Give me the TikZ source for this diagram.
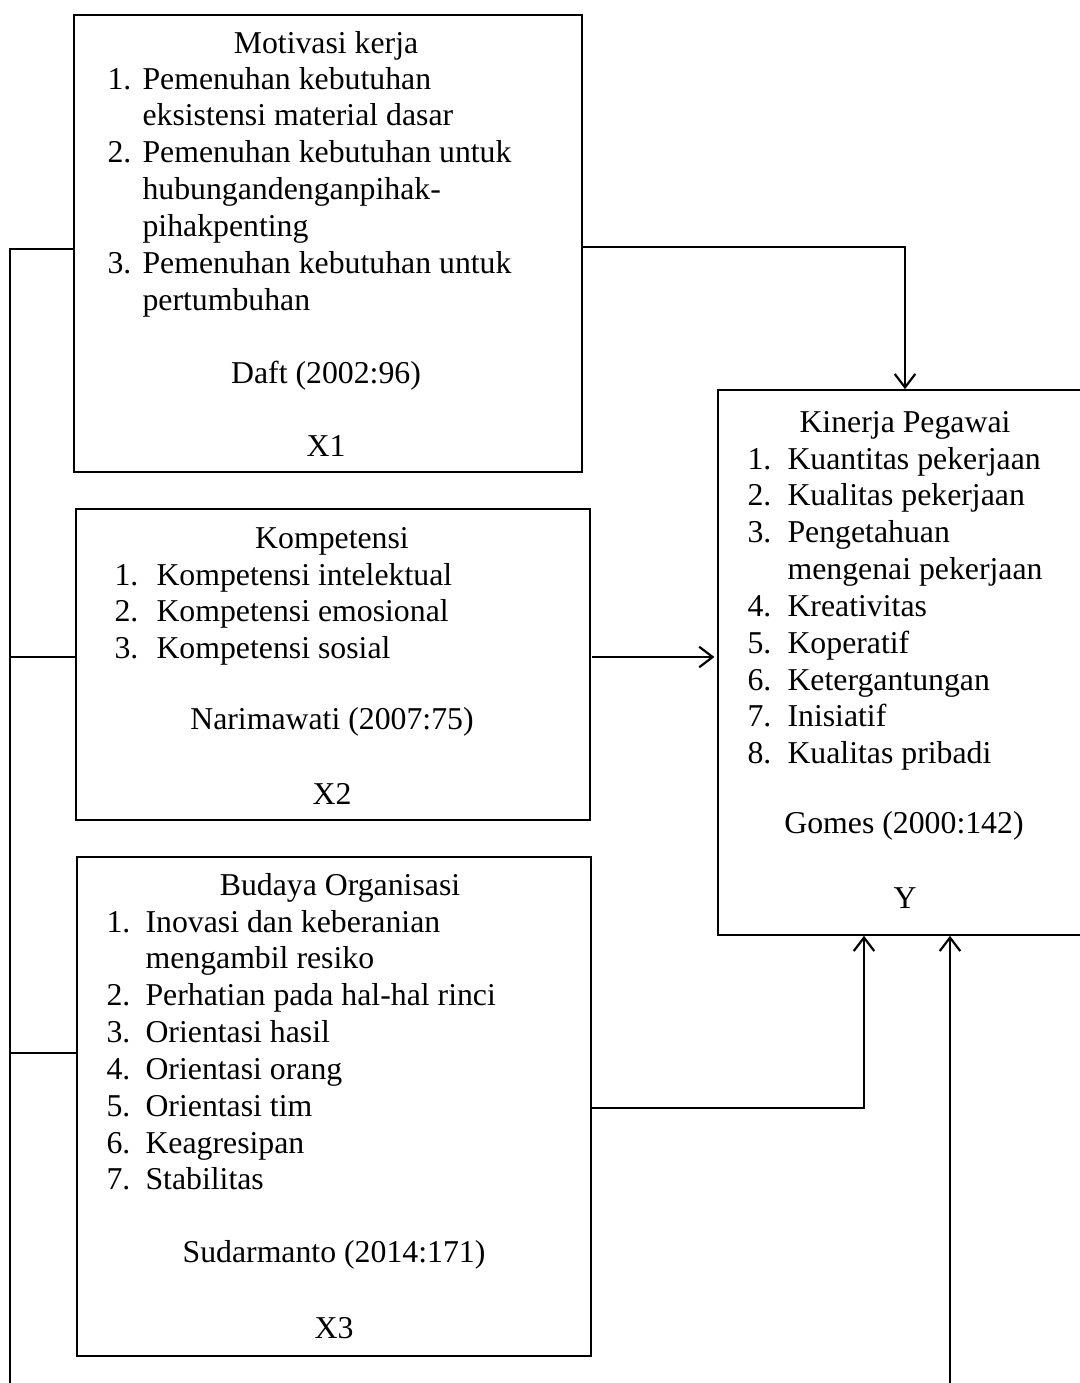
\documentclass[tikz,border=0pt]{standalone}
\usepackage{fontspec}
\setmainfont{Liberation Serif}
\usetikzlibrary{arrows.meta,fit}
\newdimen\px \px=0.365pt
\newcommand{\itemlist}[2]{\begin{tabular}[t]{@{}p{#1\px}@{}l@{}}#2\end{tabular}}
\tikzset{
  box/.style={draw, line width=0.6pt, inner sep=0pt},
  txt/.style={inner sep=0pt, anchor=base, font=\fontsize{11.6}{13.45}\selectfont},
  items/.style={txt, anchor=base west},
  bus/.style={line width=0.8pt},
  arr/.style={bus, -{Straight Barb[length=4.9pt,width=7.5pt]}}
}
\begin{document}
\begin{tikzpicture}[x=0.365pt, y=-0.365pt]
            \useasboundingbox (0,0) rectangle (1080,1383);
            % X1
            \node[box, fit={(74,15) (582,472)}] (x1) {};
            \node[txt] (x1t) at (326,53) {Motivasi kerja};
            \node[items] (x1l) at (107,89) {\itemlist{35}{1. & Pemenuhan kebutuhan\\ & eksistensi material dasar\\ 2. & Pemenuhan kebutuhan untuk\\ & hubungandenganpihak-\\ & pihakpenting\\ 3. & Pemenuhan kebutuhan untuk\\ & pertumbuhan}};
            \node[txt] (x1s) at (326,383) {Daft (2002:96)};
            \node[txt] (x1v) at (326,456) {X1};
            % X2
            \node[box, fit={(76,509) (590,820)}] (x2) {};
            \node[txt] (x2t) at (332,548) {Kompetensi};
            \node[items] (x2l) at (114,585) {\itemlist{42}{1. & Kompetensi intelektual\\ 2. & Kompetensi emosional\\ 3. & Kompetensi sosial}};
            \node[txt] (x2s) at (332,729) {Narimawati (2007:75)};
            \node[txt] (x2v) at (332,804) {X2};
            % X3
            \node[box, fit={(77,857) (591,1356)}] (x3) {};
            \node[txt] (x3t) at (340,895) {Budaya Organisasi};
            \node[items] (x3l) at (106,932) {\itemlist{39}{1. & Inovasi dan keberanian\\ & mengambil resiko\\ 2. & Perhatian pada hal-hal rinci\\ 3. & Orientasi hasil\\ 4. & Orientasi orang\\ 5. & Orientasi tim\\ 6. & Keagresipan\\ 7. & Stabilitas}};
            \node[txt] (x3s) at (334,1262) {Sudarmanto (2014:171)};
            \node[txt] (x3v) at (334,1338) {X3};
            % Y
            \node[box, fit={(718,390) (1090,935)}] (y) {};
            \node[txt] (yt) at (905,432) {Kinerja Pegawai};
            \node[items] (yl) at (747,469) {\itemlist{40}{1. & Kuantitas pekerjaan\\ 2. & Kualitas pekerjaan\\ 3. & Pengetahuan\\ & mengenai pekerjaan\\ 4. & Kreativitas\\ 5. & Koperatif\\ 6. & Ketergantungan\\ 7. & Inisiatif\\ 8. & Kualitas pribadi}};
            \node[txt] (ys) at (904,833) {Gomes (2000:142)};
            \node[txt] (yv) at (905,908) {Y};
            % connectors
            \coordinate (b0) at (10,1390);
            \coordinate (b1) at (10,249);
            \coordinate (b2) at (10,657);
            \coordinate (b3) at (10,1053);
            \coordinate (k1) at (905,247);
            \coordinate (k2) at (592,657);
            \coordinate (k3) at (864,1108);
            \coordinate (k4) at (950,1390);
            \draw[bus] (x1.west |- b1) -- (b1) -- (b0);
            \draw[bus] (x2.west |- b2) -- (b2);
            \draw[bus] (x3.west |- b3) -- (b3);
            \draw[arr] (x1.east |- k1) -- (k1) -- (y.north -| k1);
            \draw[arr, shorten >=1pt] (k2) -- (y.west |- k2);
            \draw[arr] (x3.east |- k3) -- (k3) -- (y.south -| k3);
            \draw[arr] (k4) -- (y.south -| k4);
\end{tikzpicture}
\end{document}
